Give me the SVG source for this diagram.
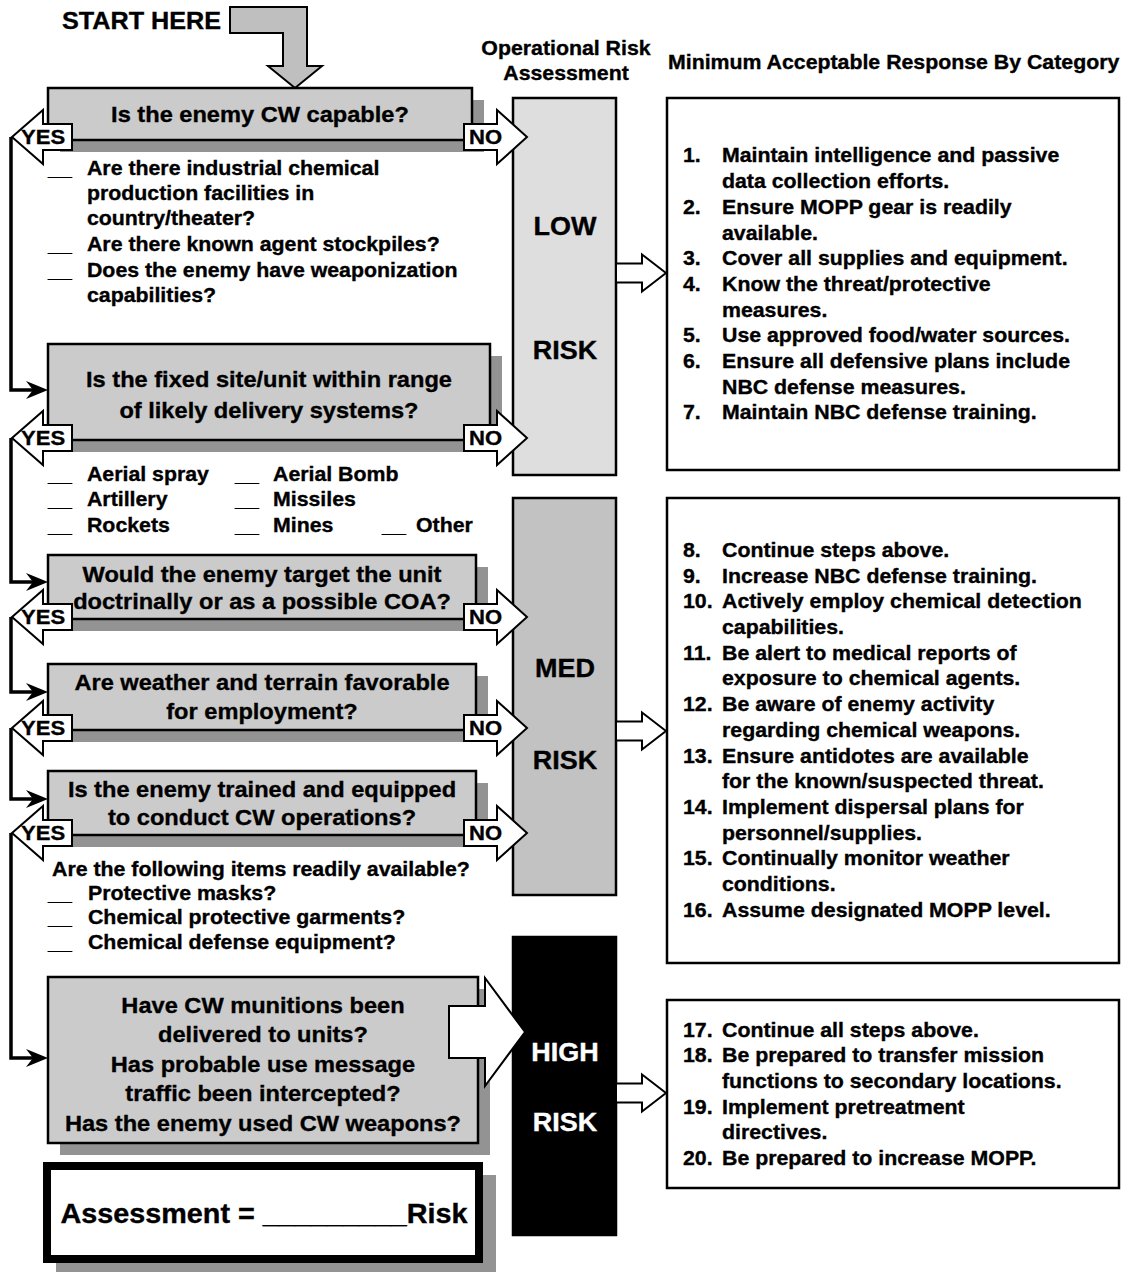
<svg xmlns="http://www.w3.org/2000/svg" xmlns:xlink="http://www.w3.org/1999/xlink" width="1128" height="1272" viewBox="0 0 1128 1272">
<style>
text{font-family:"Liberation Sans",Arial,sans-serif;font-weight:bold;fill:#000;stroke:#000;stroke-width:0.35}
.s{transform-box:fill-box;transform-origin:0 50%;transform:scaleX(1.05)}
.m{text-anchor:middle;transform-box:fill-box;transform-origin:50% 50%;transform:scaleX(1.05)}
.q{font-size:22.5px}
.b{font-size:20.3px}
.r{font-size:25.7px}
.yn{font-size:21px}
.w{fill:#fff;stroke:#fff}
.box{fill:#cbcbcb;stroke:#000;stroke-width:2.5}
.sh{fill:#939393}
.ya{fill:#fff;stroke:#000;stroke-width:2}
.conn{fill:none;stroke:#000;stroke-width:3.5}
.resp{fill:#fff;stroke:#000;stroke-width:2.5}
.col{stroke:#000;stroke-width:2.5}
</style>
<defs>
<marker id="ah" viewBox="0 -10 22 20" refX="7" refY="0" markerWidth="22" markerHeight="20" markerUnits="userSpaceOnUse" orient="auto"><path d="M0,-9 L22,0 L0,9 L7,0 Z" fill="#000"/></marker>
<path id="yes" d="M0,0 L31,-27 L31,-13 L60,-13 L60,13 L31,13 L31,27 Z"/>
<path id="no" d="M0,0 L-30,-27 L-30,-13 L-63,-13 L-63,13 L-30,13 L-30,27 Z"/>
<path id="ra" d="M0,0 L-24,-18.5 L-24,-9.5 L-50,-9.5 L-50,9.5 L-24,9.5 L-24,18.5 Z"/>
</defs>
<rect width="1128" height="1272" fill="#fff"/>

<g id="start">
<text class="s" style="font-size:24px" x="62" y="29">START HERE</text>
<polygon points="230,7 307,7 307,66 322,66 295,88 268,66 283,66 283,33 230,33" fill="#bfbfbf" stroke="#000" stroke-width="2"/>
</g>

<g id="headers">
<text class="m b" x="566" y="55">Operational Risk</text>
<text class="m b" x="566" y="80">Assessment</text>
<text class="s b" x="668" y="69">Minimum Acceptable Response By Category</text>
</g>

<g id="q1">
<rect class="sh" x="60" y="100" width="424" height="52"/>
<rect class="box" x="48" y="88" width="424" height="52"/>
<text class="m q" x="260" y="122">Is the enemy CW capable?</text>
<text class="s b" x="48" y="175">__</text><text class="s b" x="87" y="175">Are there industrial chemical</text>
<text class="s b" x="87" y="200">production facilities in</text>
<text class="s b" x="87" y="225">country/theater?</text>
<text class="s b" x="48" y="251">__</text><text class="s b" x="87" y="251">Are there known agent stockpiles?</text>
<text class="s b" x="48" y="277">__</text><text class="s b" x="87" y="277">Does the enemy have weaponization</text>
<text class="s b" x="87" y="302">capabilities?</text>
</g>

<g id="q2">
<rect class="sh" x="60" y="356" width="442" height="96"/>
<rect class="box" x="48" y="344" width="442" height="96"/>
<text class="m q" x="269" y="387">Is the fixed site/unit within range</text>
<text class="m q" x="269" y="418">of likely delivery systems?</text>
<text class="s b" x="48" y="481">__</text><text class="s b" x="87" y="481">Aerial spray</text>
<text class="s b" x="235" y="481">__</text><text class="s b" x="273" y="481">Aerial Bomb</text>
<text class="s b" x="48" y="506">__</text><text class="s b" x="87" y="506">Artillery</text>
<text class="s b" x="235" y="506">__</text><text class="s b" x="273" y="506">Missiles</text>
<text class="s b" x="48" y="532">__</text><text class="s b" x="87" y="532">Rockets</text>
<text class="s b" x="235" y="532">__</text><text class="s b" x="273" y="532">Mines</text>
<text class="s b" x="382" y="532">__</text><text class="s b" x="416" y="532">Other</text>
</g>

<g id="q3">
<rect class="sh" x="60" y="567" width="428" height="64"/>
<rect class="box" x="48" y="555" width="428" height="64"/>
<text class="m q" x="262" y="582">Would the enemy target the unit</text>
<text class="m q" x="262" y="609">doctrinally or as a possible COA?</text>
</g>

<g id="q4">
<rect class="sh" x="60" y="676" width="428" height="66"/>
<rect class="box" x="48" y="664" width="428" height="66"/>
<text class="m q" x="262" y="690">Are weather and terrain favorable</text>
<text class="m q" x="262" y="719">for employment?</text>
</g>

<g id="q5">
<rect class="sh" x="60" y="783" width="428" height="64"/>
<rect class="box" x="48" y="771" width="428" height="64"/>
<text class="m q" x="262" y="797">Is the enemy trained and equipped</text>
<text class="m q" x="262" y="825">to conduct CW operations?</text>
<text class="s b" x="52" y="876">Are the following items readily available?</text>
<text class="s b" x="48" y="900">__</text><text class="s b" x="88" y="900">Protective masks?</text>
<text class="s b" x="48" y="924">__</text><text class="s b" x="88" y="924">Chemical protective garments?</text>
<text class="s b" x="48" y="949">__</text><text class="s b" x="88" y="949">Chemical defense equipment?</text>
</g>

<g id="q6">
<rect class="sh" x="60" y="989" width="430" height="166"/>
<rect class="box" x="48" y="977" width="430" height="166"/>
<text class="m q" x="263" y="1013">Have CW munitions been</text>
<text class="m q" x="263" y="1042">delivered to units?</text>
<text class="m q" x="263" y="1072">Has probable use message</text>
<text class="m q" x="263" y="1101">traffic been intercepted?</text>
<text class="m q" x="263" y="1131">Has the enemy used CW weapons?</text>
</g>

<g id="assessment">
<rect class="sh" x="56" y="1175" width="440" height="100"/>
<rect x="47" y="1166" width="432" height="93" fill="#fff" stroke="#000" stroke-width="8"/>
<text class="m" style="font-size:27.4px" x="264" y="1223">Assessment = _________Risk</text>
</g>

<g id="low">
<rect class="col" x="513" y="98" width="103" height="377" fill="#dedede"/>
<text class="m r" x="565" y="235">LOW</text>
<text class="m r" x="565" y="359">RISK</text>
</g>
<g id="med">
<rect class="col" x="513" y="498" width="103" height="397" fill="#c2c2c2"/>
<text class="m r" x="565" y="677">MED</text>
<text class="m r" x="565" y="769">RISK</text>
</g>
<g id="high">
<rect class="col" x="513" y="937" width="103" height="298" fill="#000"/>
<text class="m r w" x="565" y="1061">HIGH</text>
<text class="m r w" x="565" y="1131">RISK</text>
</g>

<g id="r1">
<rect class="resp" x="667" y="98" width="452" height="372"/>
<text class="s b" x="683" y="162.5">1.</text><text class="s b" x="722" y="162.5">Maintain intelligence and passive</text>
<text class="s b" x="722" y="188.2">data collection efforts.</text>
<text class="s b" x="683" y="213.9">2.</text><text class="s b" x="722" y="213.9">Ensure MOPP gear is readily</text>
<text class="s b" x="722" y="239.6">available.</text>
<text class="s b" x="683" y="265.3">3.</text><text class="s b" x="722" y="265.3">Cover all supplies and equipment.</text>
<text class="s b" x="683" y="291">4.</text><text class="s b" x="722" y="291">Know the threat/protective</text>
<text class="s b" x="722" y="316.7">measures.</text>
<text class="s b" x="683" y="342.4">5.</text><text class="s b" x="722" y="342.4">Use approved food/water sources.</text>
<text class="s b" x="683" y="368.1">6.</text><text class="s b" x="722" y="368.1">Ensure all defensive plans include</text>
<text class="s b" x="722" y="393.8">NBC defense measures.</text>
<text class="s b" x="683" y="419.5">7.</text><text class="s b" x="722" y="419.5">Maintain NBC defense training.</text>
</g>

<g id="r2">
<rect class="resp" x="667" y="498" width="452" height="465"/>
<text class="s b" x="683" y="557">8.</text><text class="s b" x="722" y="557">Continue steps above.</text>
<text class="s b" x="683" y="582.7">9.</text><text class="s b" x="722" y="582.7">Increase NBC defense training.</text>
<text class="s b" x="683" y="608.4">10.</text><text class="s b" x="722" y="608.4">Actively employ chemical detection</text>
<text class="s b" x="722" y="634.1">capabilities.</text>
<text class="s b" x="683" y="659.8">11.</text><text class="s b" x="722" y="659.8">Be alert to medical reports of</text>
<text class="s b" x="722" y="685.5">exposure to chemical agents.</text>
<text class="s b" x="683" y="711.2">12.</text><text class="s b" x="722" y="711.2">Be aware of enemy activity</text>
<text class="s b" x="722" y="736.9">regarding chemical weapons.</text>
<text class="s b" x="683" y="762.6">13.</text><text class="s b" x="722" y="762.6">Ensure antidotes are available</text>
<text class="s b" x="722" y="788.3">for the known/suspected threat.</text>
<text class="s b" x="683" y="814">14.</text><text class="s b" x="722" y="814">Implement dispersal plans for</text>
<text class="s b" x="722" y="839.7">personnel/supplies.</text>
<text class="s b" x="683" y="865.4">15.</text><text class="s b" x="722" y="865.4">Continually monitor weather</text>
<text class="s b" x="722" y="891.1">conditions.</text>
<text class="s b" x="683" y="916.8">16.</text><text class="s b" x="722" y="916.8">Assume designated MOPP level.</text>
</g>

<g id="r3">
<rect class="resp" x="667" y="1000" width="452" height="188"/>
<text class="s b" x="683" y="1036.7">17.</text><text class="s b" x="722" y="1036.7">Continue all steps above.</text>
<text class="s b" x="683" y="1062.4">18.</text><text class="s b" x="722" y="1062.4">Be prepared to transfer mission</text>
<text class="s b" x="722" y="1088.1">functions to secondary locations.</text>
<text class="s b" x="683" y="1113.8">19.</text><text class="s b" x="722" y="1113.8">Implement pretreatment</text>
<text class="s b" x="722" y="1139.5">directives.</text>
<text class="s b" x="683" y="1165.2">20.</text><text class="s b" x="722" y="1165.2">Be prepared to increase MOPP.</text>
</g>

<g id="connectors">
<path class="conn" d="M11,137 V390 H33" marker-end="url(#ah)"/>
<path class="conn" d="M11,438 V582 H33" marker-end="url(#ah)"/>
<path class="conn" d="M11,617 V692 H33" marker-end="url(#ah)"/>
<path class="conn" d="M11,728 V799 H33" marker-end="url(#ah)"/>
<path class="conn" d="M11,833 V1058 H33" marker-end="url(#ah)"/>

<use xlink:href="#yes" class="ya" x="12" y="137"/><text class="s yn" x="21" y="144.5">YES</text>
<use xlink:href="#no" class="ya" x="527" y="137"/><text class="s yn" x="469" y="144.5">NO</text>
<use xlink:href="#yes" class="ya" x="12" y="438"/><text class="s yn" x="21" y="445.5">YES</text>
<use xlink:href="#no" class="ya" x="527" y="438"/><text class="s yn" x="469" y="445.5">NO</text>
<use xlink:href="#yes" class="ya" x="12" y="617"/><text class="s yn" x="21" y="624.5">YES</text>
<use xlink:href="#no" class="ya" x="527" y="617"/><text class="s yn" x="469" y="624.5">NO</text>
<use xlink:href="#yes" class="ya" x="12" y="728"/><text class="s yn" x="21" y="735.5">YES</text>
<use xlink:href="#no" class="ya" x="527" y="728"/><text class="s yn" x="469" y="735.5">NO</text>
<use xlink:href="#yes" class="ya" x="12" y="833"/><text class="s yn" x="21" y="840.5">YES</text>
<use xlink:href="#no" class="ya" x="527" y="833"/><text class="s yn" x="469" y="840.5">NO</text>

<path class="ya" d="M525,1032 L485,978 L485,1006 L449,1006 L449,1058 L485,1058 L485,1086 Z"/>

<use xlink:href="#ra" class="ya" x="666" y="273"/>
<use xlink:href="#ra" class="ya" x="666" y="731"/>
<use xlink:href="#ra" class="ya" x="666" y="1093"/>
</g>
</svg>
